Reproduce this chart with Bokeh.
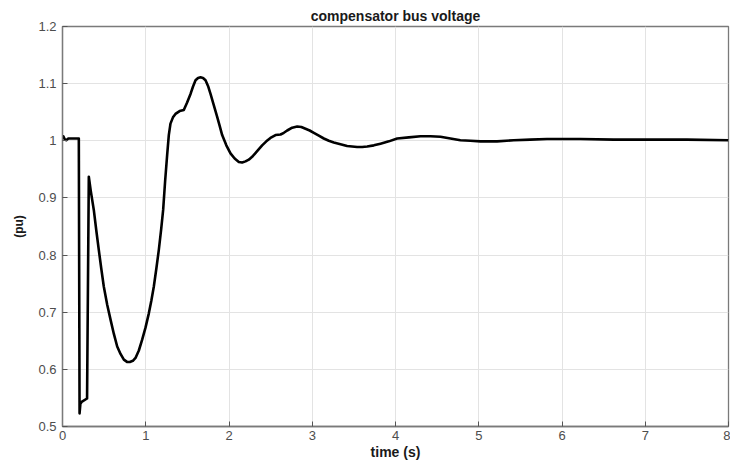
from bokeh.plotting import figure
from bokeh.models import Range1d, FixedTicker
from bokeh.embed import file_html
from bokeh.resources import INLINE

time_s = [0.0, 0.01, 0.025, 0.045, 0.07, 0.196, 0.205, 0.215, 0.23, 0.295, 0.316,
          0.34, 0.376, 0.406, 0.436, 0.466, 0.496, 0.537, 0.577, 0.617, 0.657, 0.697,
          0.737, 0.775, 0.809, 0.845, 0.877, 0.917, 0.957, 0.997, 1.037, 1.067, 1.097,
          1.127, 1.157, 1.185, 1.209, 1.233, 1.257, 1.277, 1.297, 1.327, 1.357, 1.407,
          1.457, 1.497, 1.538, 1.568, 1.598, 1.628, 1.658, 1.688, 1.718, 1.748, 1.778,
          1.818, 1.858, 1.888, 1.918, 1.968, 2.018, 2.068, 2.118, 2.158, 2.198, 2.238,
          2.278, 2.338, 2.398, 2.448, 2.498, 2.559, 2.619, 2.659, 2.699, 2.759, 2.819,
          2.869, 2.919, 2.969, 3.019, 3.079, 3.139, 3.199, 3.259, 3.339, 3.419, 3.479,
          3.539, 3.60, 3.66, 3.74, 3.82, 3.92, 4.02, 4.16, 4.30, 4.42, 4.54, 4.66, 4.78,
          4.90, 5.02, 5.22, 5.42, 5.62, 5.82, 6.02, 6.22, 6.62, 7.02, 7.50, 8.0]
voltage_pu = [1.008, 1.008, 1.003, 1.001, 1.004, 1.004, 0.523, 0.540, 0.543, 0.549, 0.937,
              0.912, 0.879, 0.843, 0.809, 0.776, 0.745, 0.713, 0.687, 0.662, 0.640, 0.627,
              0.617, 0.613, 0.613, 0.615, 0.620, 0.633, 0.652, 0.673, 0.698, 0.720, 0.745,
              0.776, 0.809, 0.845, 0.879, 0.930, 0.975, 1.010, 1.030, 1.041, 1.047, 1.052,
              1.054, 1.067, 1.082, 1.095, 1.106, 1.110, 1.111, 1.110, 1.106, 1.096, 1.082,
              1.062, 1.042, 1.026, 1.010, 0.992, 0.978, 0.969, 0.963, 0.962, 0.964, 0.967,
              0.972, 0.982, 0.992, 0.999, 1.005, 1.010, 1.011, 1.014, 1.018, 1.023, 1.025,
              1.024, 1.021, 1.018, 1.014, 1.009, 1.004, 1.000, 0.997, 0.994, 0.991, 0.990,
              0.989, 0.989, 0.990, 0.992, 0.995, 0.999, 1.004, 1.006, 1.008, 1.008, 1.007,
              1.004, 1.001, 1.000, 0.999, 0.999, 1.001, 1.002, 1.003, 1.003, 1.003, 1.002,
              1.002, 1.002, 1.001]

x_ticks = [0, 1, 2, 3, 4, 5, 6, 7, 8]
y_ticks = [0.5, 0.6, 0.7, 0.8, 0.9, 1.0, 1.1, 1.2]
y_labels = {0.5: "0.5", 0.6: "0.6", 0.7: "0.7", 0.8: "0.8", 0.9: "0.9",
            1.0: "1", 1.1: "1.1", 1.2: "1.2"}

FONT = "Liberation Sans"
GRAY = "#4d4d4d"

p = figure(width=730, height=462, output_backend="svg", toolbar_location=None,
           x_range=Range1d(0, 8), y_range=Range1d(0.5, 1.2),
           title="compensator bus voltage",
           min_border_left=62, min_border_right=2, min_border_top=26, min_border_bottom=35)

p.title.align = "center"
p.title.text_font = FONT
p.title.text_font_size = "14px"
p.title.text_font_style = "bold"
p.title.text_color = "#1a1a1a"
p.title.offset = 0
p.title.standoff = 5

p.outline_line_color = "#7a7a7a"
p.outline_line_width = 1.3

p.xgrid.ticker = FixedTicker(ticks=x_ticks)
p.ygrid.ticker = FixedTicker(ticks=y_ticks)
p.grid.grid_line_color = "#e3e3e3"
p.grid.grid_line_width = 1

for ax in (p.xaxis[0], p.yaxis[0]):
    ax.axis_line_color = "#7a7a7a"
    ax.axis_line_width = 1.3
    ax.major_tick_line_color = "#555555"
    ax.major_tick_in = 5
    ax.major_tick_out = 0
    ax.minor_tick_line_color = None
    ax.major_label_text_font = FONT
    ax.major_label_text_font_size = "13px"
    ax.major_label_text_color = GRAY
    ax.axis_label_text_font = FONT
    ax.axis_label_text_font_size = "14px"
    ax.axis_label_text_font_style = "bold"
    ax.axis_label_text_color = "#1a1a1a"

p.xaxis[0].ticker = FixedTicker(ticks=x_ticks)
p.yaxis[0].ticker = FixedTicker(ticks=y_ticks)
p.yaxis[0].major_label_overrides = y_labels
p.xaxis[0].axis_label = "time (s)"
p.yaxis[0].axis_label = "(pu)"
p.yaxis[0].axis_label_text_font_size = "12px"
p.xaxis[0].major_label_standoff = 4
p.xaxis[0].axis_label_standoff = 1
p.yaxis[0].major_label_standoff = 6
p.yaxis[0].axis_label_standoff = 9

p.line(time_s, voltage_pu, line_color="black", line_width=2.6, line_join="round")

open("out.html", "w").write(file_html(p, INLINE))
